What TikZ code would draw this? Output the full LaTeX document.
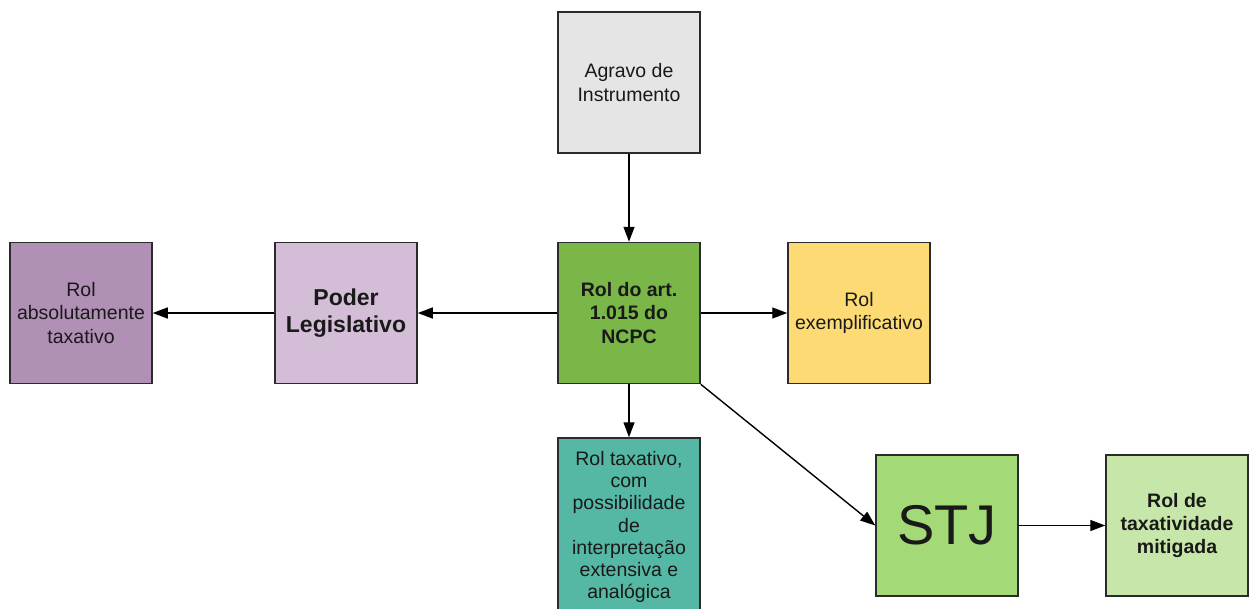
\documentclass[tikz,border=0pt]{standalone}
\usepackage{fontspec}
\setmainfont{Liberation Sans}
\usetikzlibrary{arrows.meta}

\definecolor{cgray}{HTML}{E5E5E5}
\definecolor{cgreen}{HTML}{7AB648}
\definecolor{cpurple}{HTML}{B190B5}
\definecolor{clilac}{HTML}{D4BDD7}
\definecolor{cyellow}{HTML}{FDDA73}
\definecolor{cteal}{HTML}{55B8A5}
\definecolor{clime}{HTML}{A3D977}
\definecolor{cpale}{HTML}{C7E6A9}
\definecolor{cedge}{HTML}{2B2B2B}

\tikzset{
  box/.style={draw=cedge, line width=1.5pt, minimum width=142pt, minimum height=141pt,
    align=center, inner sep=2pt, text=black!90,
    font=\fontsize{19.5}{23.2}\selectfont},
  boldbox/.style={box, font=\fontsize{19.5}{23.2}\selectfont\bfseries},
  link/.style={line width=1.4pt, -{Triangle[length=15pt,width=11pt]}}
}

\begin{document}
\begin{tikzpicture}[x=1pt, y=-1pt]
  \useasboundingbox (0,0) rectangle (1256,608);
  \clip (0,0) rectangle (1256,608);

  % boxes
  \node[box, fill=cgray] (agravo) at (629,82.5) {Agravo de\\Instrumento};
  \node[boldbox, fill=cgreen] (ncpc) at (629,313) {Rol do art.\\1.015 do\\NCPC};
  \node[box, fill=cpurple] (abs) at (81,313) {Rol\\absolutamente\\taxativo};
  \node[box, fill=clilac, font=\fontsize{23}{27}\selectfont\bfseries] (poder) at (346,313) {Poder\\Legislativo};
  \node[box, fill=cyellow] (exemp) at (859,313) {Rol\\exemplificativo};
  \node[box, fill=cteal, minimum height=178pt, font=\fontsize{19.5}{22.3}\selectfont] (taxa) at (629,527)
    {Rol taxativo,\\com\\possibilidade\\de\\interpreta\c{c}\~ao\\extensiva e\\anal\'ogica};
  \node[box, fill=clime, font=\fontsize{56}{60}\selectfont] (stj) at (947,525.5) {STJ};
  \node[boldbox, fill=cpale] (mitig) at (1177,525.5) {Rol de\\taxatividade\\mitigada};

  % connectors
  \draw[link] (agravo.south) -- (ncpc.north);
  \draw[link] (ncpc.west) -- (poder.east);
  \draw[link] (poder.west) -- (abs.east);
  \draw[link] (ncpc.east) -- (exemp.west);
  \draw[link] (ncpc.south) -- (taxa.north);
  \draw[link] (ncpc.south east) -- (stj.west);
  \draw[link] (stj.east) -- (mitig.west);
\end{tikzpicture}
\end{document}
